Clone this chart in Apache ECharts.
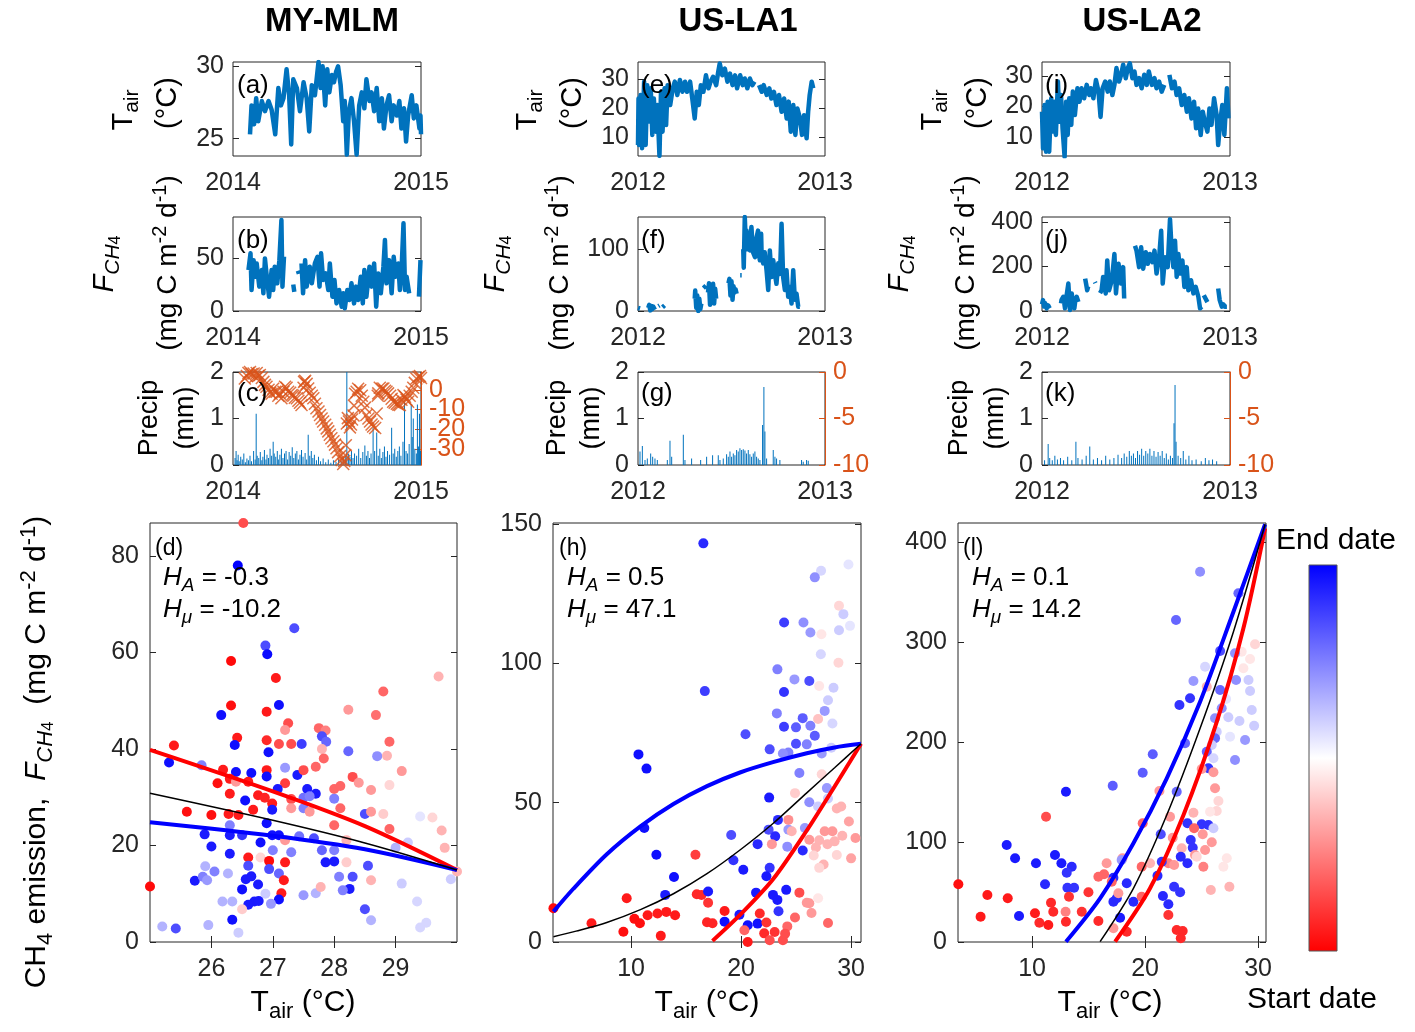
<!DOCTYPE html>
<html><head><meta charset="utf-8">
<script src="https://cdn.jsdelivr.net/npm/echarts@6/dist/echarts.min.js"></script>
<style>html,body{margin:0;padding:0;background:#fff}#c{width:1415px;height:1032px}</style>
</head><body><div id="c"></div>
<script>
// ---------------- DATA ----------------
const sites = ['MY-MLM', 'US-LA1', 'US-LA2'];
const yearLabelsMY = ['2014', '2015'];
const yearLabelsLA = ['2012', '2013'];

// (a) MY-MLM air temperature [day, degC]
const tairMY = [[33,25.3],[36,27.3],[41,26.0],[45,27.8],[49,26.2],[56,27.6],[62,26.9],[69,27.6],[75,27.0],[82,25.3],[88,28.5],[93,27.3],[98,27.8],[104,29.8],[109,28.0],[113,24.6],[117,29.1],[124,28.5],[130,26.9],[137,28.9],[143,27.8],[148,25.5],[153,28.7],[159,28.0],[166,30.3],[170,28.5],[174,30.0],[179,27.3],[183,29.8],[187,28.2],[192,29.4],[196,28.9],[200,29.6],[204,30.0],[209,28.7],[214,26.2],[217,27.6],[221,23.9],[225,26.9],[230,27.8],[235,26.2],[240,23.9],[245,27.3],[250,28.2],[255,27.1],[259,29.1],[265,27.6],[269,28.2],[274,26.9],[279,28.5],[284,26.2],[289,27.8],[293,25.7],[298,27.3],[303,28.0],[308,26.2],[312,27.3],[318,26.6],[323,27.6],[327,25.7],[332,27.1],[336,24.8],[340,26.6],[347,28.0],[351,26.4],[356,27.3],[362,25.7],[364,26.6],[365,25.3]];
// (b) MY-MLM FCH4 [day, mg C m-2 d-1]
const fchMY = [[30,38.7],[34,54.4],[36,19.8],[40,48],[43,32.4],[46,44.9],[51,23],[56,38.7],[59,16.7],[62,49.6],[65,35.5],[70,13.5],[75,38.7],[78,19.8],[81,41.8],[86,26.1],[90,48],[94,85.8],[96,23],[99,51.2],[101,null],[117,25],[119,18],[120,null],[126,38],[128,35],[129,null],[133,44.9],[136,16.7],[140,48],[143,23],[146,32.4],[149,41.8],[153,26.1],[159,44.9],[164,51.2],[168,23],[171,54.4],[175,29.2],[180,35.5],[185,19.8],[188,44.9],[193,13.5],[197,29.2],[201,7.2],[206,19.8],[211,4.1],[214,16.7],[217,2.5],[222,19.8],[226,10.4],[230,26.1],[235,7.2],[239,23],[243,10.4],[248,32.4],[252,7.2],[255,38.7],[259,13.5],[265,41.8],[269,23],[274,44.9],[278,4.1],[282,35.5],[287,16.7],[292,41.8],[295,67],[298,26.1],[303,48],[308,16.7],[312,51.2],[316,32.4],[321,44.9],[324,19.8],[327,35.5],[331,82.8],[334,19.8],[337,32.4],[342,16.7],[344,null],[361,13.5],[364,48]];
// (c) MY-MLM precipitation [day, mm] and water table [day, cm]
const precipMY = [[4,0.15],[6,0.3],[8,0.1],[10,0.22],[12,0.08],[15,0.18],[18,0.12],[21,0.25],[24,0.06],[27,0.14],[30,0.1],[33,0.2],[36,0.08],[40,0.3],[43,0.12],[45,1.1],[47,0.2],[50,0.15],[53,0.28],[56,0.1],[58,0.18],[61,0.32],[64,0.12],[66,0.22],[69,0.15],[72,0.35],[75,0.2],[78,0.5],[80,0.25],[83,0.18],[86,0.3],[88,0.12],[91,0.22],[94,0.35],[97,0.15],[100,0.25],[103,0.3],[106,0.12],[109,0.28],[112,0.2],[115,0.38],[118,0.15],[121,0.25],[124,0.3],[127,0.12],[130,0.22],[133,0.32],[136,0.18],[140,0.26],[143,0.12],[146,0.65],[149,0.2],[152,0.3],[155,0.15],[158,0.22],[162,0.1],[166,0.18],[170,0.08],[175,0.14],[180,0.06],[185,0.12],[190,0.05],[195,0.1],[200,0.07],[205,0.12],[210,0.08],[214,0.15],[218,0.2],[221,2.0],[224,0.25],[227,0.18],[230,0.3],[233,0.15],[236,0.25],[240,0.2],[244,0.35],[248,0.15],[252,0.28],[256,0.42],[259,0.2],[262,0.3],[265,0.15],[268,0.25],[272,0.8],[275,0.3],[279,0.7],[282,0.2],[285,0.35],[288,0.15],[291,0.28],[294,0.4],[297,0.18],[300,0.3],[304,0.22],[308,0.8],[311,0.25],[314,0.35],[317,0.18],[320,0.3],[323,0.4],[326,0.2],[330,0.5],[333,1.35],[336,0.3],[339,0.25],[342,0.45],[346,1.3],[348,0.6],[350,1.0],[353,0.35],[356,0.25],[358,1.3],[360,0.4],[362,1.1],[364,0.3]];
const wtMY = [[23,5.7],[27,7],[30,8.5],[33,9],[36,8],[40,8.2],[43,6.5],[46,8.5],[49,7],[52,7.5],[56,6],[59,4],[62,2.5],[65,1.5],[69,0],[72,-1.5],[75,-2],[78,0.5],[82,-1],[85,-1],[88,-3],[91,-2],[94,-4.3],[98,-1],[101,1.5],[104,1],[107,-1],[111,-1.5],[114,-2.7],[117,-3],[120,-4],[124,-4.3],[127,-5.5],[130,-6.5],[133,-7.7],[137,1],[138,4],[140,4.5],[143,3],[146,0.7],[149,-1.5],[153,-3],[156,-4.3],[159,-7],[162,-9.3],[166,-11],[169,-12.7],[172,-14.5],[175,-16],[179,-17.7],[182,-19.5],[185,-21],[188,-22.7],[191,-24.5],[195,-26],[198,-27.7],[201,-29.5],[204,-31.5],[208,-33.5],[211,-35.5],[214,-37.5],[216,-36],[218,-33],[219,-28],[221,-17],[223,-14.3],[225,-16],[227,-19],[229,-17.5],[231,-15],[234,-13],[235,-8],[237,-2],[240,-1],[243,0.5],[247,-0.2],[250,-3],[253,-6],[256,-9],[259,-12.7],[263,-14.5],[266,-16],[269,-17.5],[272,-18.5],[276,-19.3],[279,-12],[281,-3],[282,-1.8],[285,1],[289,0.5],[292,0.7],[295,-0.5],[298,-1],[301,-1.8],[305,-3],[308,-4.5],[311,-6],[314,-6.5],[318,-7],[321,-7.5],[324,-7.7],[327,-5],[331,-2.7],[334,-3.5],[337,-5],[340,-6],[343,-3],[347,-1],[350,1],[353,3.5],[356,5.7],[360,6.5],[363,7],[365,6]];

// (e) US-LA1 air temperature
const tairLA1 = [[0,7.2],[1,23.3],[2,7.2],[5,24.5],[8,6.1],[12,29.1],[15,7.2],[18,27.9],[22,15.3],[25,26.8],[28,10.7],[31,23.3],[35,11.8],[38,21],[42,3.4],[45,25.6],[48,11.8],[52,26.8],[55,14.1],[58,27.9],[63,21],[68,26.8],[72,29.1],[77,24.5],[82,29.7],[87,25.6],[92,29.1],[96,25.6],[102,29.1],[107,22.2],[111,16.4],[115,25.6],[119,21],[123,27.9],[128,25.6],[133,31.3],[138,26.8],[142,29.1],[147,30.8],[153,27.9],[157,32.5],[160,35.4],[165,31.3],[170,33.6],[175,29.1],[180,31.9],[185,27.9],[190,31.3],[194,26.8],[200,31.3],[205,27.9],[209,30.2],[214,26.8],[219,30.2],[224,27.9],[228,29.1],[232,null],[237,27.9],[242,25.6],[246,27.9],[252,24.5],[257,26.8],[261,23.3],[266,25.6],[271,21],[276,24.5],[281,18.7],[286,23.3],[291,16.4],[295,22.2],[299,11.8],[304,21],[308,10.7],[312,19.8],[317,16.4],[321,10.7],[325,17.5],[330,9.5],[333,18.7],[336,24.5],[340,29.1],[343,26.8]];
// (f) US-LA1 FCH4
const fchLA1 = [[0,5],[2,6],[4,4],[5,null],[20,5],[22,10],[24,1],[26,8],[28,3],[30,7],[33,2],[34,null],[40,8],[42,9],[44,null],[48,6],[52,9],[53,null],[111,20],[112,33],[114,5],[116,25],[118,0],[120,20],[122,3],[124,12],[125,null],[128,37],[133,41],[134,null],[137,30],[139,45],[141,10],[143,40],[145,18],[147,44],[149,12],[151,36],[153,20],[154,null],[177,45],[179,52],[181,25],[183,48],[185,18],[187,40],[189,30],[191,35],[193,28],[194,null],[200,58],[203,58],[204,null],[206,100],[207,70],[209,152],[211,110],[212.5,130],[214,100],[216,125],[219,98],[222,136],[225,95],[229,87],[231,115],[235,130],[237,90],[238.6,82],[241,125],[242,90],[245,77],[248,95],[251.6,66],[254.9,34],[258,98],[261.4,55],[264.7,82],[268,60],[271,44],[274.4,77],[278,60],[281,141],[284,55],[287.5,34],[290.7,66],[294,23],[297,39],[300.5,12],[303.8,66],[307,18],[310.3,28],[313.6,7],[316.8,7]];
// (g) US-LA1 precipitation
const precipLA1 = [[3.9,0.29],[8.5,0.41],[13.7,0.11],[18.2,0.14],[24.8,0.25],[28.7,0.18],[33.2,0.14],[37.8,0.11],[57.4,0.11],[62.6,0.52],[65.9,0.18],[88.7,0.65],[91.9,0.11],[104.9,0.14],[122.6,0.11],[134.3,0.18],[146,0.21],[157.1,0.21],[160.4,0.11],[166.9,0.14],[173.4,0.23],[176.7,0.18],[180,0.29],[183.2,0.18],[186.5,0.25],[189.7,0.21],[193,0.32],[196.2,0.29],[199.5,0.36],[202.8,0.32],[206,0.34],[209.3,0.31],[212.5,0.25],[215.8,0.32],[219,0.23],[222.3,0.18],[225.6,0.25],[228.8,0.29],[232.1,0.18],[235.3,0.14],[238.6,0.11],[243.8,0.86],[246.4,1.68],[248.4,0.72],[251.7,0.14],[264.7,0.32],[268,0.18],[271.2,0.14],[277.7,0.11],[320.1,0.11],[323.4,0.07],[329.9,0.11],[333.2,0.09]];

// (i) US-LA2 air temperature
const tairLA2 = [[0,18.3],[2,6.3],[5,20.5],[8,5.2],[11,21.6],[14,5.2],[18,22.7],[21,11.8],[24,21.6],[27,10.7],[31,28.2],[34,15],[37,23.8],[40,12.9],[44,3.5],[47,21.6],[50,10.7],[53,22.7],[57,14],[60,24.9],[64,17.2],[69,26],[73,21.6],[77,26],[82,22.7],[87,27.1],[92,23.8],[95,26],[100,22.7],[105,28.7],[110,24.9],[114,16.6],[118,26],[123,28.2],[128,24.9],[132,28.2],[137,23.8],[141,27.1],[145,32.6],[150,28.2],[154,30.4],[158,33.7],[163,29.3],[167,32.6],[171,34.2],[176,29.3],[180,31.5],[184,27.1],[189,29.3],[194,26],[199,30.4],[204,27.1],[208,31.5],[214,27.1],[219,29.3],[223,26],[228,28.2],[233,24.9],[238,27.1],[242,null],[248,30.4],[253,26],[258,28.2],[262,23.8],[267,26],[272,20.5],[277,23.8],[282,18.3],[286,22.7],[291,16.1],[296,21.6],[300,12.9],[304,19.4],[309,10.7],[313,18.3],[317,15],[322,11.8],[326,19.4],[330,14],[335,22.7],[340,17.2],[343,7.4],[347,15],[351,20.5],[355,10.7],[360,26],[363,16.1]];
// (j) US-LA2 FCH4
const fchLA2 = [[0,30],[2,49],[4,20],[6,35],[9,12],[12,25],[15,12],[16,null],[37,34],[38,50],[41.6,64],[44.8,12],[48,70],[51.3,123],[54.5,4],[57.8,79],[61,30],[63,12],[65,50],[67.5,64],[70.8,41],[72,null],[84,145],[86,120],[88,93],[90,110],[91,null],[103,130],[104,125],[105,null],[113,80],[116,93],[119,153],[124,79],[127,227],[130.5,93],[136,138],[141,256],[144,79],[149,212],[154,123],[158,197],[160,56],[162,null],[181,293],[184,271],[189,197],[193,286],[197,190],[202,264],[206,212],[210,256],[215,219],[219,271],[223,168],[228,241],[232,360],[235,123],[239.5,241],[244.7,197],[249.2,412],[252.5,271],[255.7,197],[259,315],[262.2,153],[265.5,256],[269.4,168],[273.3,227],[277.2,108],[281.7,197],[285,93],[290.1,138],[294.7,79],[299.2,108],[304.4,64],[307.7,12],[310.9,19.5],[312,null],[315,71],[318,64],[322,40],[324,null],[343,101],[346,49],[350,19.5],[353,30],[356,19.5],[360,19.5]];
// (k) US-LA2 precipitation
const precipLA2 = [[5,0.1],[12,0.45],[15,0.15],[20,0.1],[25,0.2],[30,0.12],[36,0.15],[42,0.1],[50,0.18],[58,0.1],[66,0.5],[70,0.15],[78,0.12],[86,0.2],[93,0.4],[100,0.12],[108,0.15],[116,0.1],[124,0.2],[132,0.12],[140,0.15],[148,0.22],[155,0.15],[160,0.25],[165,0.18],[170,0.3],[174,0.2],[178,0.25],[182,0.15],[186,0.3],[190,0.22],[194,0.35],[198,0.2],[202,0.3],[206,0.25],[210,0.35],[214,0.2],[218,0.3],[222,0.18],[226,0.28],[230,0.2],[234,0.3],[238,0.15],[242,0.25],[246,0.12],[250,0.2],[254,0.15],[257,0.9],[259,1.72],[261,0.5],[265,0.2],[270,0.15],[275,0.3],[280,0.12],[286,0.2],[292,0.1],[300,0.12],[310,0.08],[318,0.15],[325,0.1],[332,0.12],[340,0.08]];

// (d),(h),(l) scatter: [Tair, FCH4, date fraction 0=start 1=end]
const scatMY = [[26.52,86.8,0.15],[26.43,78.0,1.0],[27.35,65.0,0.85],[26.88,61.4,0.85],[26.91,59.6,0.98],[26.32,58.2,0.02],[27.05,54.7,0.05],[29.7,55.0,0.35],[28.8,51.9,0.2],[27.1,49.1,0.97],[26.32,49.0,0.03],[26.16,47.0,0.97],[26.9,47.7,0.05],[28.23,48.1,0.3],[28.68,47.0,0.22],[27.25,45.3,0.15],[27.2,43.9,0.3],[27.75,44.3,0.2],[27.86,43.8,0.25],[27.8,42.6,0.85],[27.87,41.5,0.8],[26.42,42.3,0.05],[26.38,40.8,0.97],[25.39,40.7,0.05],[26.9,41.8,0.08],[27.1,41.0,0.15],[27.3,41.0,0.15],[27.47,41.0,0.88],[26.93,39.3,0.97],[27.8,40.0,0.35],[28.23,39.5,0.8],[28.9,41.5,0.2],[28.7,38.5,0.72],[28.86,38.6,0.35],[25.31,37.2,0.97],[27.83,38.0,0.2],[25.84,36.6,0.75],[26.19,35.7,0.05],[26.4,35.2,0.97],[26.65,35.0,0.97],[26.9,35.6,0.05],[27.2,36.1,0.7],[27.4,34.6,0.95],[27.5,35.6,0.15],[27.7,36.3,0.2],[28.3,34.2,0.15],[29.1,35.4,0.3],[26.1,32.9,0.03],[26.3,33.8,0.05],[26.4,33.2,0.3],[26.6,33.2,0.05],[26.9,34.3,0.97],[27.2,32.9,0.12],[28.0,31.7,0.2],[28.1,32.3,0.2],[28.4,33.0,0.3],[28.6,31.5,0.3],[28.9,32.5,0.42],[27.56,31.7,0.95],[27.7,30.7,0.95],[26.3,30.7,0.05],[26.76,30.4,0.05],[26.87,29.9,0.07],[27.08,31.7,0.95],[27.3,29.6,0.15],[27.5,29.9,0.78],[27.6,30.2,0.75],[28.0,29.7,0.75],[26.55,29.3,0.97],[26.99,28.7,0.05],[25.6,27.0,0.03],[26.0,26.3,0.03],[26.28,26.5,0.05],[26.44,26.3,0.05],[26.68,27.4,0.05],[26.99,27.4,0.95],[27.3,27.7,0.3],[27.5,27.7,0.75],[27.6,27.0,0.3],[28.1,27.7,0.2],[28.5,26.5,0.85],[28.6,27.0,0.3],[28.8,26.5,0.4],[29.6,25.8,0.42],[29.4,26.0,0.55],[26.3,24.2,0.75],[26.9,24.6,0.97],[28.0,24.2,0.2],[28.9,23.4,0.2],[29.75,23.1,0.35],[25.89,22.3,0.95],[26.3,22.1,0.95],[26.5,22.1,0.9],[26.8,20.6,0.97],[26.99,22.1,0.97],[27.1,22.1,0.97],[27.43,21.9,0.78],[27.2,21.1,0.3],[27.67,21.5,0.85],[27.8,19.0,0.8],[27.3,18.6,0.75],[27.0,19.0,0.75],[26.0,19.8,0.95],[28.0,19.0,0.75],[28.2,21.1,0.35],[29.0,19.5,0.65],[29.2,20.6,0.6],[29.8,19.5,0.35],[26.3,18.3,0.95],[26.6,17.5,0.05],[26.8,17.5,0.42],[26.94,16.8,0.02],[27.2,16.5,0.05],[26.6,15.8,0.85],[26.94,15.1,0.85],[27.1,14.2,0.8],[28.0,16.7,0.95],[27.86,16.5,0.95],[28.2,16.5,0.4],[28.55,15.8,0.85],[30.0,14.6,0.35],[29.9,13.0,0.6],[25.0,11.5,0.02],[25.73,12.7,0.95],[25.86,13.5,0.75],[25.93,12.8,0.7],[26.05,14.6,0.75],[26.27,14.2,0.65],[25.9,15.7,0.65],[26.56,13.0,0.95],[26.65,13.6,0.95],[26.76,11.9,0.95],[26.5,10.9,0.97],[27.18,12.8,0.05],[27.14,10.1,0.05],[27.1,8.8,0.97],[26.88,10.0,0.6],[26.97,7.9,0.7],[26.7,8.4,0.95],[26.6,7.7,0.95],[26.77,8.5,0.95],[26.5,6.8,0.4],[26.34,4.6,0.97],[26.18,8.4,0.65],[26.34,8.4,0.65],[27.5,9.7,0.7],[27.7,10.1,0.65],[27.78,11.4,0.35],[28.25,11.0,0.95],[28.14,10.7,0.75],[28.08,13.5,0.75],[28.3,13.5,0.85],[28.6,12.8,0.35],[29.1,12.1,0.6],[28.5,6.8,0.85],[28.6,4.5,0.65],[29.35,8.4,0.58],[29.5,4.0,0.58],[29.4,3.0,0.58],[25.2,3.2,0.65],[25.42,2.8,0.85],[25.95,3.5,0.65],[26.44,1.9,0.6]];
const scatLA1 = [[16.57,143.0,0.92],[29.76,135.4,0.55],[27.27,133.2,0.58],[26.7,130.8,0.72],[28.9,120.6,0.42],[29.3,117.6,0.6],[27.3,110.4,0.45],[28.9,111.8,0.6],[29.9,113.4,0.55],[23.91,114.6,0.88],[25.67,114.6,0.72],[26.3,111.0,0.7],[27.25,103.2,0.58],[28.85,100.2,0.42],[23.3,97.8,0.75],[24.85,94.2,0.7],[26.2,93.6,0.85],[27.1,91.8,0.45],[28.4,91.2,0.6],[16.7,90.0,0.88],[23.9,89.7,0.9],[27.9,86.7,0.6],[27.6,82.9,0.7],[23.25,82.0,0.75],[25.6,80.3,0.82],[23.9,77.2,0.88],[24.99,77.0,0.82],[26.3,77.6,0.75],[27.0,80.0,0.38],[28.3,78.4,0.58],[20.4,74.5,0.85],[26.7,74.0,0.82],[24.99,71.1,0.85],[25.97,70.9,0.75],[22.6,69.1,0.85],[24.3,68.0,0.75],[23.8,67.6,0.72],[28.2,69.7,0.6],[27.33,67.6,0.7],[10.67,67.3,0.97],[11.4,62.2,0.97],[25.3,60.6,0.75],[27.33,60.2,0.42],[27.8,55.2,0.7],[24.9,53.4,0.4],[22.55,51.8,0.95],[26.2,50.1,0.72],[27.0,48.6,0.6],[27.9,51.5,0.6],[28.7,47.9,0.35],[29.1,48.6,0.35],[29.8,43.2,0.32],[24.3,43.8,0.28],[23.35,43.8,0.92],[11.2,40.9,0.97],[24.3,40.3,0.7],[25.8,40.9,0.7],[24.6,39.7,0.35],[22.5,40.3,0.85],[23.1,37.9,0.92],[19.1,38.4,0.85],[27.6,39.7,0.3],[28.3,39.7,0.3],[29.2,38.1,0.35],[30.4,37.3,0.3],[26.2,36.7,0.3],[27.1,36.5,0.35],[28.5,36.1,0.35],[21.5,35.1,0.92],[22.8,35.1,0.3],[24.2,34.2,0.72],[25.6,32.8,0.92],[26.8,33.9,0.35],[27.85,35.1,0.35],[26.6,31.0,0.42],[27.5,27.8,0.35],[28.7,31.2,0.42],[30.0,30.0,0.32],[27.1,26.6,0.42],[12.3,31.3,0.97],[15.85,31.3,0.12],[13.9,23.3,0.97],[19.3,29.3,0.9],[20.2,25.9,0.95],[22.6,26.6,0.9],[22.3,23.6,0.95],[13.1,16.9,0.95],[9.6,15.7,0.05],[15.97,17.1,0.08],[16.4,16.9,0.08],[17.0,18.1,0.95],[17.0,14.1,0.1],[21.36,17.7,0.95],[22.9,16.9,0.95],[23.3,15.1,0.95],[24.1,18.7,0.95],[25.3,17.7,0.15],[23.4,11.0,0.9],[25.97,14.1,0.3],[26.2,13.9,0.3],[27.0,15.7,0.45],[26.4,10.4,0.3],[24.9,8.8,0.2],[24.2,5.6,0.2],[27.9,6.8,0.2],[2.94,12.1,0.02],[6.4,6.7,0.05],[9.3,3.7,0.03],[10.3,8.3,0.03],[10.8,6.7,0.03],[11.5,9.6,0.05],[12.4,10.2,0.05],[13.2,10.8,0.05],[14.0,9.6,0.05],[12.7,2.2,0.05],[16.9,7.1,0.07],[17.4,6.7,0.07],[18.5,11.1,0.05],[18.5,7.3,0.97],[19.85,9.8,0.95],[20.6,6.0,0.97],[21.5,6.6,0.97],[20.3,4.2,0.2],[20.6,0.0,0.05],[21.7,10.2,0.08],[22.3,7.0,0.1],[22.1,3.1,0.08],[22.6,0.6,0.15],[23.05,3.6,0.1],[23.8,0.6,0.15],[24.0,3.0,0.15]];
const scatLA2 = [[30.7,419.7,0.7],[24.87,370.3,0.72],[22.74,322,0.8],[28.26,348.7,0.8],[29.73,297.7,0.42],[28.55,290.3,0.45],[29.29,283,0.45],[26.64,291,0.85],[27.96,288.7,0.72],[28.7,273.7,0.45],[25.31,275.3,0.58],[28.05,262,0.72],[29.15,262,0.6],[25.46,255.3,0.35],[24.28,261,0.7],[26.64,252,0.8],[29.29,251,0.6],[23.98,243.7,0.9],[27.17,243,0.55],[23.04,237,0.9],[26.78,233.7,0.72],[27.37,224.7,0.6],[29.44,232,0.6],[26.19,223.7,0.72],[28.35,221,0.6],[29.65,216.3,0.6],[26.34,210.3,0.6],[26.19,203.7,0.8],[27.52,205.3,0.55],[28.85,202,0.7],[23.54,198.7,0.8],[25.9,197,0.6],[25.46,190.3,0.8],[27.96,182,0.72],[26.05,183.7,0.58],[20.68,187.7,0.82],[19.79,169.3,0.82],[25.6,173.7,0.9],[25.01,173,0.3],[26.05,169.7,0.3],[17.14,156.3,0.82],[26.19,153.7,0.3],[21.27,151,0.3],[22.8,150.3,0.8],[13.0,150.3,0.95],[26.49,141,0.42],[26.34,131,0.42],[25.75,130.3,0.45],[24.28,129.3,0.35],[11.24,125.3,0.15],[19.79,118.7,0.2],[22.21,125.3,0.3],[23.75,118.7,0.9],[25.01,117.7,0.9],[25.6,117,0.9],[26.05,113.7,0.6],[24.34,113.7,0.2],[25.1,107.7,0.3],[21.39,107.7,0.85],[22.45,104.3,0.3],[24.04,102,0.9],[25.9,99.7,0.3],[7.76,97,0.95],[24.22,94.3,0.9],[23.24,93.7,0.35],[24.42,87,0.3],[25.31,92,0.3],[8.5,83.7,0.95],[12.03,87,0.95],[10.35,78.7,0.95],[12.6,78.7,0.95],[13.51,75.3,0.92],[13.07,69.3,0.9],[16.6,78.7,0.3],[18.0,83.7,0.3],[17.93,82,0.7],[20.44,78.7,0.35],[19.7,75.3,0.2],[22.06,78.7,0.25],[21.48,80.3,0.9],[23.16,85.3,0.92],[23.75,78.7,0.92],[22.57,77,0.3],[24.57,85.3,0.42],[25.16,75.3,0.25],[26.93,75.3,0.45],[27.23,83.7,0.45],[15.87,65.3,0.2],[16.37,67.7,0.2],[17.2,64.3,0.92],[17.05,60.3,0.2],[17.2,40.3,0.92],[17.5,43.7,0.92],[17.64,48.7,0.3],[18.38,58.7,0.92],[18.97,40.3,0.92],[17.79,24.3,0.95],[17.2,13.7,0.3],[18.38,10.3,0.08],[19.7,45.3,0.2],[21.1,66.3,0.92],[21.58,46,0.92],[22.06,37.7,0.92],[22.57,55.3,0.9],[23.1,49.7,0.9],[22.06,27,0.1],[22.8,12,0.08],[23.33,11,0.08],[23.16,3.7,0.08],[25.82,52,0.35],[27.46,55.3,0.35],[11.15,57.7,0.92],[13.13,54.3,0.9],[13.72,54.3,0.9],[3.48,57.7,0.03],[6.05,47,0.05],[7.85,43.7,0.05],[5.45,25.3,0.05],[8.85,26,0.95],[10.26,28.7,0.05],[10.65,19.3,0.08],[11.44,17,0.05],[11.68,39.3,0.08],[11.88,30.3,0.08],[13.0,20.3,0.08],[13.27,45.3,0.1],[12.97,30.3,0.25],[14.4,30.3,0.1],[14.99,49.7,0.1],[15.87,21,0.08]];

// fitted curves: [Tair, FCH4]
const fitMY_red = [[25.0,39.8],[27.0,31.2],[28.5,24.0],[30.0,14.9]];
const fitMY_blue = [[25.0,24.8],[27.0,22.0],[28.5,19.2],[30.0,14.9]];
const fitMY_black = [[25.0,30.8],[27.0,25.2],[28.5,20.5],[30.0,14.9]];
const fitLA1_red = [[17.4,0.4],[19.9,9.7],[22.9,22.5],[25.97,40.0],[28.5,55.8],[30.9,71.1]];
const fitLA1_blue = [[2.94,10.9],[4.75,19.1],[7.79,31.5],[10.85,41.5],[13.85,49.5],[16.9,55.9],[19.9,60.8],[22.9,64.5],[25.97,67.7],[28.5,69.8],[30.9,71.1]];
const fitLA1_black = [[2.94,1.9],[5.0,3.9],[7.79,7.0],[10.85,11.6],[13.85,17.3],[16.9,24.5],[19.9,33.0],[22.9,42.5],[25.97,53.5],[28.5,62.5],[30.9,71.1]];
const fitLA2_red = [[17.35,0.3],[20.44,53.7],[23.4,127],[26.35,220.3],[28.7,313.7],[30.62,413.7]];
const fitLA2_blue = [[13.0,0.3],[16.02,43.7],[18.97,98.7],[21.92,163.7],[24.87,240.3],[27.82,330.3],[30.62,417.7]];
const fitLA2_black = [[16.02,0.3],[18.97,53.7],[21.92,127],[24.87,213.7],[27.82,310.3],[30.62,417.7]];

const statsText = [['-0.3','-10.2'],['0.5','47.1'],['0.1','14.2']];

// ---------------- STYLE / LAYOUT ----------------
const FONT = '"Liberation Sans", Arial, Helvetica, sans-serif';
const TC = '#262626';
const BLUE = '#0072BD', ORANGE = '#D95319';
const TICKFS = 25;

const grids = [], xAxes = [], yAxes = [], series = [], scatterIdx = [];
function addGrid(r) {
  grids.push({left: r[0], top: r[1], width: r[2], height: r[3], show: true, borderColor: TC, borderWidth: 1, backgroundColor: 'rgba(0,0,0,0)'});
  return grids.length - 1;
}
function mkAxis(gi, pos, min, max, ticks, o) {
  o = o || {};
  return {
    type: 'value', gridIndex: gi, position: pos, min: min, max: max,
    axisLine: {show: !!o.lineColor, lineStyle: {color: o.lineColor || TC, width: 1}},
    splitLine: {show: false},
    axisTick: {show: o.noTick ? false : true, inside: true, length: o.tickLen != null ? o.tickLen : 6, customValues: ticks, lineStyle: {color: o.lineColor || TC}},
    axisLabel: {show: !!o.labels, customValues: o.labelValues || ticks, formatter: o.fmt, color: o.labelColor || TC, hideOverlap: false,
      showMinLabel: true, showMaxLabel: true,
      fontSize: TICKFS, fontFamily: FONT, margin: o.margin != null ? o.margin : 10}
  };
}
function pushX(a) { xAxes.push(a); return xAxes.length - 1; }
function pushY(a) { yAxes.push(a); return yAxes.length - 1; }
const gapFix = d => d.map(p => [p[0], p[1] == null ? '-' : p[1]]);

function timePanel(r, years, yMin, yMax, yTicks, data) {
  const gi = addGrid(r);
  const maxDay = years[0] === '2012' ? 366 : 365;
  const xi = pushX(mkAxis(gi, 'bottom', 0, maxDay, [0, maxDay], {labels: true, margin: 15, tickLen: 0,
    fmt: v => (v === 0 ? years[0] : years[1])}));
  const yi = pushY(mkAxis(gi, 'left', yMin, yMax, yTicks, {labels: true, margin: 9}));
  pushY(mkAxis(gi, 'right', yMin, yMax, yTicks, {}));
  series.push({type: 'line', xAxisIndex: xi, yAxisIndex: yi, data: gapFix(data), showSymbol: false, symbol: 'none',
    connectNulls: false, lineStyle: {color: BLUE, width: 4.5, join: 'round'}, clip: true, z: 2});
}
const xSym = 'path://M0 0L12 12M12 0L0 12';
function precipPanel(r, years, rMin, rMax, rTicks, labelSets, precip, wt) {
  const gi = addGrid(r);
  const maxDay = years[0] === '2012' ? 366 : 365;
  const xi = pushX(mkAxis(gi, 'bottom', 0, maxDay, [0, maxDay], {labels: true, margin: 15, tickLen: 0,
    fmt: v => (v === 0 ? years[0] : years[1])}));
  const yi = pushY(mkAxis(gi, 'left', 0, 2, [0, 1, 2], {labels: true, margin: 9}));
  // right (water table) axis; labels split over stacked axes so none is dropped
  const yr = pushY(mkAxis(gi, 'right', rMin, rMax, rTicks, {labels: true, labelValues: labelSets[0], margin: 8, lineColor: ORANGE, labelColor: ORANGE}));
  for (let k = 1; k < labelSets.length; k++) {
    pushY(mkAxis(gi, 'right', rMin, rMax, rTicks, {labels: true, labelValues: labelSets[k], margin: 8, lineColor: ORANGE, labelColor: ORANGE, noTick: true}));
  }
  series.push({type: 'bar', xAxisIndex: xi, yAxisIndex: yi, data: precip, barWidth: 1, itemStyle: {color: BLUE}, z: 2});
  if (wt) {
    series.push({type: 'scatter', xAxisIndex: xi, yAxisIndex: yr, data: wt, symbol: xSym, symbolSize: 12, clip: false,
      itemStyle: {color: 'rgba(0,0,0,0)', borderColor: ORANGE, borderWidth: 1.5}, z: 3});
  }
}
function scatterPanel(r, xMin, xMax, xTicks, yMin, yMax, yTicks, pts, red, blue, black) {
  const gi = addGrid(r);
  const xi = pushX(mkAxis(gi, 'bottom', xMin, xMax, xTicks, {labels: true, margin: 15}));
  pushX(mkAxis(gi, 'top', xMin, xMax, xTicks, {}));
  const yi = pushY(mkAxis(gi, 'left', yMin, yMax, yTicks, {labels: true, margin: 11}));
  pushY(mkAxis(gi, 'right', yMin, yMax, yTicks, {}));
  scatterIdx.push(series.length);
  series.push({type: 'scatter', xAxisIndex: xi, yAxisIndex: yi, data: pts, symbolSize: 10, itemStyle: {opacity: 1}, z: 2});
  const ln = (d, c, w, z) => ({type: 'line', xAxisIndex: xi, yAxisIndex: yi, data: d, showSymbol: false, symbol: 'none',
    smooth: 0.3, lineStyle: {color: c, width: w}, z: z, silent: true});
  series.push(ln(red, '#ff0000', 4, 3), ln(blue, '#0000ff', 4, 4), ln(black, '#000000', 1.5, 5));
}

// column 1
timePanel([233, 62, 188, 94], yearLabelsMY, 23.8, 30.3, [25, 30], tairMY);
timePanel([233, 217, 188, 94], yearLabelsMY, 0, 88.7, [0, 50], fchMY);
precipPanel([233, 372, 188, 93], yearLabelsMY, -38, 9, [-30, -20, -10, 0], [[0, -20], [-10, -30]], precipMY, wtMY);
scatterPanel([150, 523, 307, 419], 25.0, 30.0, [26, 27, 28, 29], 0, 86.8, [0, 20, 40, 60, 80], scatMY, fitMY_red, fitMY_blue, fitMY_black);
// column 2
timePanel([638, 62, 187, 94], yearLabelsLA, 3.4, 35.9, [10, 20, 30], tairLA1);
timePanel([638, 217, 187, 94], yearLabelsLA, 0, 152, [0, 100], fchLA1);
precipPanel([638, 372, 187, 93], yearLabelsLA, -10, 0, [-10, -5, 0], [[-10, -5, 0]], precipLA1, null);
scatterPanel([553, 523, 308, 419], 2.9, 30.9, [10, 20, 30], 0, 150.3, [0, 50, 100, 150], scatLA1, fitLA1_red, fitLA1_blue, fitLA1_black);
// column 3
timePanel([1042, 62, 188, 94], yearLabelsLA, 3.8, 34.6, [10, 20, 30], tairLA2);
timePanel([1042, 217, 188, 94], yearLabelsLA, 0, 422, [0, 200, 400], fchLA2);
precipPanel([1042, 372, 188, 93], yearLabelsLA, -10, 0, [-10, -5, 0], [[-10, -5, 0]], precipLA2, null);
scatterPanel([958, 523, 308, 419], 3.45, 30.7, [10, 20, 30], 0, 419, [0, 100, 200, 300, 400], scatLA2, fitLA2_red, fitLA2_blue, fitLA2_black);

// ---------------- TEXT ----------------
function rs(F) {
  const b = {fontFamily: FONT, color: '#000'};
  const L = Math.round(1.3 * F), S = Math.round(0.72 * F);
  return {
    n: Object.assign({}, b, {fontSize: F, lineHeight: L, verticalAlign: 'middle'}),
    i: Object.assign({}, b, {fontSize: F, lineHeight: L, verticalAlign: 'middle', fontStyle: 'italic'}),
    b: Object.assign({}, b, {fontSize: F, lineHeight: L, verticalAlign: 'middle', fontWeight: 'bold'}),
    s: Object.assign({}, b, {fontSize: S, lineHeight: S, verticalAlign: 'bottom'}),
    si: Object.assign({}, b, {fontSize: S, lineHeight: S, verticalAlign: 'bottom', fontStyle: 'italic'}),
    ss: Object.assign({}, b, {fontSize: Math.round(0.56 * F), lineHeight: Math.round(0.4 * F), verticalAlign: 'bottom'}),
    p: Object.assign({}, b, {fontSize: S, lineHeight: S, verticalAlign: 'top'})
  };
}
function txt(x, y, text, F, rot, align) {
  return {type: 'text', x: x, y: y, rotation: rot ? Math.PI / 2 : 0, z: 100, silent: true,
    style: {text: text, rich: rs(F), fill: '#000', font: F + 'px ' + FONT,
      align: align || 'center', verticalAlign: 'middle', textAlign: align || 'center', textVerticalAlign: 'middle'}};
}
const G = [];
// titles
[[332, 22], [738, 22], [1142, 22]].forEach((p, k) => G.push(txt(p[0], p[1], '{b|' + sites[k] + '}', 33)));
// vertical axis names for small panels
const colX = [[124, 168, 105, 168, 150, 186], [528, 573, 496, 560, 558, 592], [933, 978, 900, 966, 960, 996]];
colX.forEach(c => {
  G.push(txt(c[0], 110, '{n|T}{s|air}', 29, true));
  G.push(txt(c[1], 103, '{n|(°C)}', 29, true));
  G.push(txt(c[2], 264, '{i|F}{si|CH}{ss|4}', 29, true));
  G.push(txt(c[3], 263, '{n|(mg C m}{p|-2}{n| d}{p|-1}{n|)}', 28, true));
  G.push(txt(c[4], 418, '{n|Precip}', 27, true));
  G.push(txt(c[5], 418, '{n|(mm)}', 27, true));
});
// big y label
G.push(txt(37, 752, '{n|CH}{s|4}{n| emission,  }{i|F}{si|CH}{ss|4}{n|  (mg C m}{p|-2}{n| d}{p|-1}{n|)}', 30, true));
// x labels below scatter panels
[303, 707, 1110].forEach(x => G.push(txt(x, 1003, '{n|T}{s|air}{n| (°C)}', 30)));
// panel letters
const letters = [['(a)', 237, 86], ['(b)', 237, 241], ['(c)', 237, 394], ['(e)', 641, 86], ['(f)', 641, 241], ['(g)', 641, 394], ['(i)', 1045, 86], ['(j)', 1045, 241], ['(k)', 1045, 394]];
letters.forEach(l => G.push(txt(l[1], l[2], '{n|' + l[0] + '}', 26, false, 'left')));
[['(d)', 155], ['(h)', 559], ['(l)', 963]].forEach(l => G.push(txt(l[1], 549, '{n|' + l[0] + '}', 23, false, 'left')));
[163, 567, 972].forEach((x, k) => {
  G.push(txt(x, 578, '{i|H}{si|A}{n| = ' + statsText[k][0] + '}', 26, false, 'left'));
  G.push(txt(x, 610, '{i|H}{si|μ}{n| = ' + statsText[k][1] + '}', 26, false, 'left'));
});
// colorbar
G.push({type: 'rect', shape: {x: 1309, y: 565, width: 28, height: 386}, z: 100, silent: true,
  style: {stroke: '#555', lineWidth: 1, fill: {type: 'linear', x: 0, y: 0, x2: 0, y2: 1,
    colorStops: [{offset: 0, color: '#0000ff'}, {offset: 0.5, color: '#ffffff'}, {offset: 1, color: '#ff0000'}]}}});
G.push(txt(1336, 541, '{n|End date}', 30));
G.push(txt(1312, 1000, '{n|Start date}', 30));

const chart = echarts.init(document.getElementById('c'), null, {renderer: 'canvas'});
chart.setOption({
  animation: false,
  backgroundColor: '#ffffff',
  textStyle: {fontFamily: FONT},
  grid: grids, xAxis: xAxes, yAxis: yAxes, series: series,
  visualMap: [{type: 'continuous', show: false, min: 0, max: 1, dimension: 2, seriesIndex: scatterIdx,
    inRange: {color: ['#ff0000', '#ffffff', '#0000ff']}}],
  graphic: G
});
</script></body></html>
